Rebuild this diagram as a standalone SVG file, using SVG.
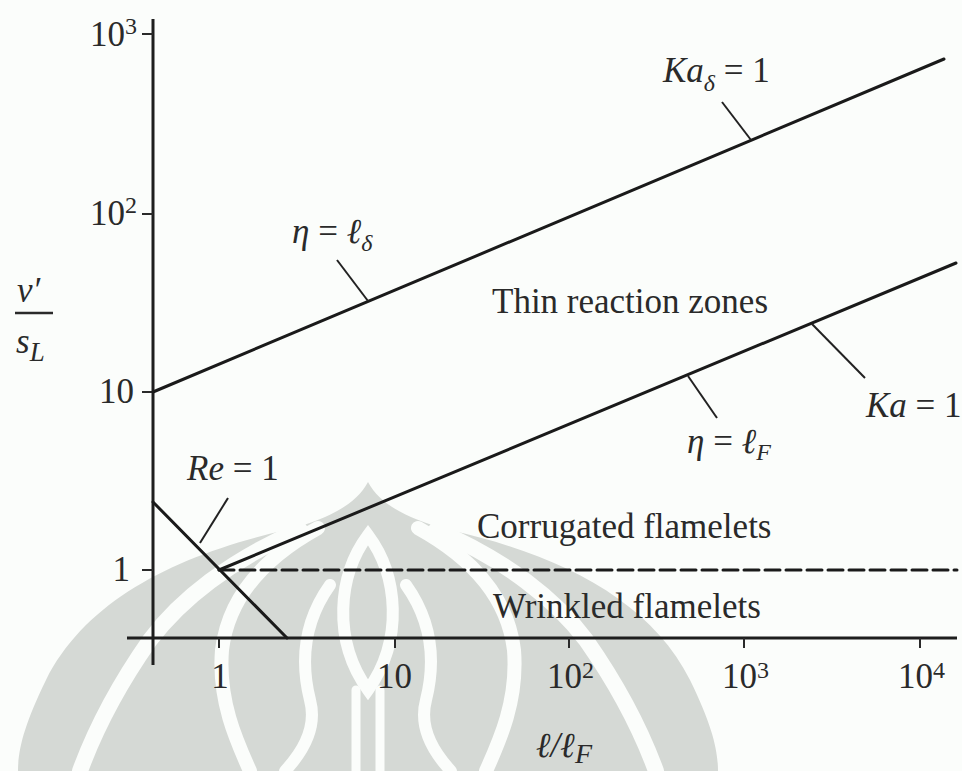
<svg xmlns="http://www.w3.org/2000/svg" width="962" height="771" viewBox="0 0 962 771">
<style>
.t{font-family:"Liberation Serif","Times New Roman",serif;fill:#2a2a2a;font-size:35px}
.i{font-style:italic}
.ax{stroke:#1e1e1e;stroke-width:3;fill:none}
.tk{stroke:#2a2a2a;stroke-width:2;fill:none}
.ln{stroke:#1a1a1a;stroke-width:3;fill:none;stroke-linecap:round}
.ld{stroke:#222;stroke-width:2;fill:none}
.wm{fill:#d5d9d5}
.ws{stroke:#fbfdfb;fill:none;stroke-linecap:round}
</style>
<rect width="962" height="771" fill="#fbfdfb"/>
<g id="watermark">
<path class="wm" d="M368,482 C380,505 410,520 450,530 C560,555 650,600 690,680 C712,725 718,750 718,771 L18,771 C18,750 24,725 46,680 C86,600 176,555 286,530 C326,520 356,505 368,482 Z"/>
<g id="wm-half">
<path class="ws" stroke-width="16" d="M300,530 C230,560 180,600 150,640 C115,690 95,730 80,771"/>
<path class="ws" stroke-width="14" d="M318,528 C260,560 228,600 222,650 C218,700 236,740 250,771"/>
<path class="ws" stroke-width="12" d="M330,585 C305,620 300,660 310,700 C318,730 300,755 285,771"/>
</g>
<use href="#wm-half" transform="matrix(-1,0,0,1,736,0)"/>
<path class="ws" stroke-width="12" d="M368,535 C398,575 404,640 368,690 C332,640 338,575 368,535 Z"/>
<path class="ws" stroke-width="9" d="M356,690 L356,771 M380,690 L380,771"/>
</g>
<g id="axes">
<path class="ax" d="M153,19 L153,665 M127,638 L957,638"/>
<path class="tk" d="M142,34 H153 M142,214 H153 M142,392 H153 M142,570 H153"/>
<path class="tk" d="M219,638 V648 M395,638 V648 M569,638 V648 M744,638 V648 M920,638 V648"/>
</g>
<g id="connectors">
<path class="ln" d="M153,392 L944,59"/>
<path class="ln" d="M219,570 L956,263"/>
<path class="ln" d="M153,502 L287,638"/>
<path class="ln" d="M219,570 L957,570" stroke-dasharray="15 6" stroke-linecap="butt"/>
<path class="ld" d="M200,543 L228,498"/>
<path class="ld" d="M722,102 L751,140"/>
<path class="ld" d="M337,260 L368,301"/>
<path class="ld" d="M812,324 L865,378"/>
<path class="ld" d="M688,376 L717,418"/>
</g>
<g id="y-ticks">
<text class="t" x="137" y="46" text-anchor="end" font-size="36">10<tspan font-size="24" dy="-12">3</tspan></text>
<text class="t" x="137" y="225" text-anchor="end" font-size="36">10<tspan font-size="24" dy="-12">2</tspan></text>
<text class="t" x="134" y="403" text-anchor="end" font-size="36">10</text>
<text class="t" x="130" y="581" text-anchor="end" font-size="36">1</text>
</g>
<g id="x-ticks">
<text class="t" x="220" y="688" text-anchor="middle" font-size="36">1</text>
<text class="t" x="377" y="688" font-size="36">10</text>
<text class="t" x="547" y="688" font-size="36">10<tspan font-size="24" dy="-10">2</tspan></text>
<text class="t" x="722" y="688" font-size="36">10<tspan font-size="24" dy="-10">3</tspan></text>
<text class="t" x="898" y="688" font-size="36">10<tspan font-size="24" dy="-10">4</tspan></text>
</g>
<g id="y-label">
<text class="t i" x="17" y="302" font-size="40">v′</text>
<path d="M15,313 H53" stroke="#2a2a2a" stroke-width="2.5"/>
<text class="t i" x="16" y="353" font-size="40">s<tspan font-size="27" dy="8">L</tspan></text>
</g>
<g id="x-label">
<text class="t i" x="536" y="757" font-size="44">ℓ/ℓ<tspan font-size="28" dy="6">F</tspan></text>
</g>
<g id="label-re">
<text class="t" x="187" y="480"><tspan class="i">Re</tspan> = 1</text>
</g>
<g id="label-kad">
<text class="t" x="663" y="82"><tspan class="i">Ka</tspan><tspan class="i" font-size="24" dy="9">δ</tspan><tspan dy="-9"> = 1</tspan></text>
</g>
<g id="label-eta-d">
<text class="t" x="292" y="243"><tspan class="i">η</tspan> = <tspan class="i">ℓ</tspan><tspan class="i" font-size="24" dy="8">δ</tspan></text>
</g>
<g id="label-eta-f">
<text class="t" x="687" y="453"><tspan class="i">η</tspan> = <tspan class="i">ℓ</tspan><tspan class="i" font-size="24" dy="7">F</tspan></text>
</g>
<g id="label-ka">
<text class="t" x="866" y="417"><tspan class="i">Ka</tspan> = 1</text>
</g>
<g id="region-thin">
<text class="t" x="492" y="313">Thin reaction zones</text>
</g>
<g id="region-corrugated">
<text class="t" x="477" y="538">Corrugated flamelets</text>
</g>
<g id="region-wrinkled">
<text class="t" x="493" y="618">Wrinkled flamelets</text>
</g>
</svg>
